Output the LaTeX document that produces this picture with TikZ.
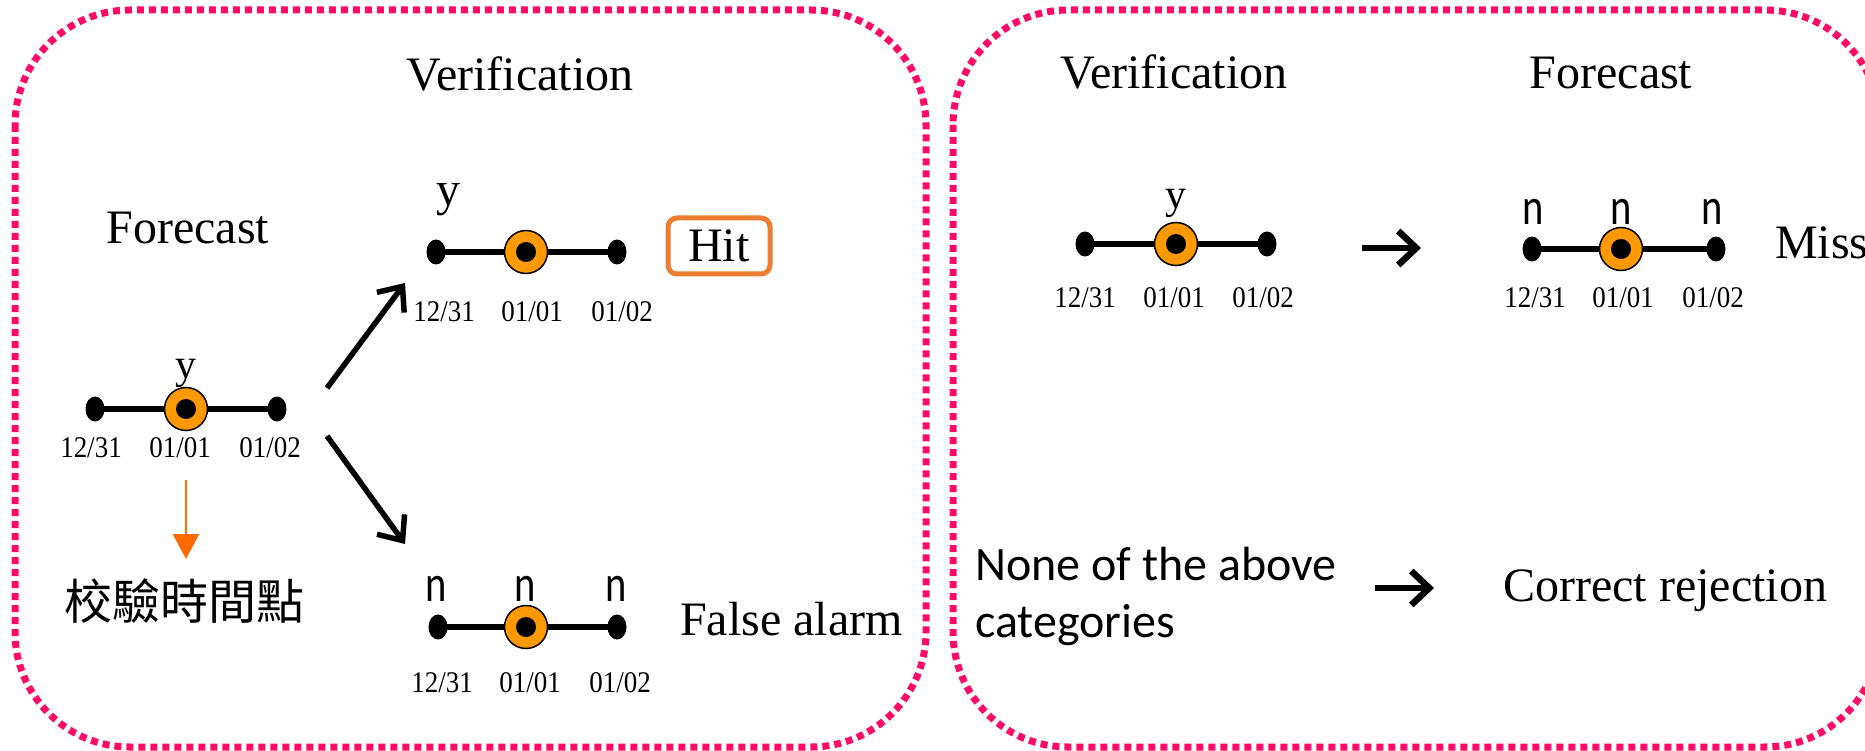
\documentclass[tikz,border=0pt]{standalone}
\usepackage{fontspec}
\setmainfont{Liberation Serif}
\newfontfamily\sansfont{Carlito}
\newfontfamily\narrowsans[FakeStretch=0.78]{Carlito}
\newfontfamily\datefont[FakeStretch=0.9]{Liberation Serif}
\newfontfamily\cjkfont{Noto Sans CJK TC}
\usetikzlibrary{arrows.meta,shapes.geometric,backgrounds}

\definecolor{framepink}{HTML}{FF0A66}
\definecolor{markorange}{HTML}{FF9900}
\definecolor{hitorange}{HTML}{ED7D31}
\definecolor{guideorange}{HTML}{FF6A00}

\tikzset{
  panel/.style={draw=framepink, line width=7pt, dash pattern=on 7pt off 5pt, rounded corners=115pt},
  axisline/.style={line width=6pt, line cap=round},
  enddot/.style={ellipse, fill=black, minimum width=19pt, minimum height=25pt, inner sep=0pt},
  eventmark/.style={circle, fill=markorange, draw=black, line width=1.5pt, minimum size=43pt, inner sep=0pt},
  heading/.style={font=\fontsize{48}{57}\selectfont, anchor=base, inner sep=0pt},
  datelbl/.style={font=\datefont\fontsize{30}{36}\selectfont, anchor=base, inner sep=0pt},
  flagy/.style={font=\fontsize{42}{50}\selectfont, anchor=base, inner sep=0pt},
  flagn/.style={font=\narrowsans\fontsize{52}{60}\selectfont, anchor=base, inner sep=0pt},
  result/.style={font=\fontsize{48}{57}\selectfont, anchor=base west, inner sep=0pt},
  bigarrow/.style={line width=5.5pt, -{Straight Barb[length=20pt,width=34pt,line width=5.5pt]}},
  shortarrow/.style={line width=6.5pt, -{Straight Barb[length=18pt,width=34pt,line width=6.5pt]}},
  hitbox/.style={draw=hitorange, line width=5pt, rounded corners=9pt, minimum width=102pt, minimum height=56pt,
    font=\fontsize{48}{57}\selectfont, inner sep=0pt}
}

% three-day axis: name, x of left dot, x of event, x of right dot, y
\newcommand\dayaxis[5]{%
  \node[enddot] (#1-l) at (#2,#5) {};
  \node[enddot] (#1-r) at (#4,#5) {};
  \node[eventmark] (#1-c) at (#3,#5) {};
  \fill (#1-c.center) circle (10pt);
  \begin{scope}[on background layer]
    \draw[axisline] (#1-l.center) -- (#1-r.center);
  \end{scope}%
}
% date row under an axis: name, baseline y, three x positions
\newcommand\daterow[5]{%
  \node[datelbl] (#1-d1) at (#3,#2) {12/31};
  \node[datelbl] (#1-d2) at (#4,#2) {01/01};
  \node[datelbl] (#1-d3) at (#5,#2) {01/02};
}

\begin{document}
\begin{tikzpicture}[x=1pt, y=-1pt]
\useasboundingbox (0,0) rectangle (1865,751);
\clip (0,0) rectangle (1865,751);

% ---------- left panel ----------
\draw[panel] (15,10) rectangle (926,747);
\node[heading] (lver) at (520,91) {Verification};
\node[heading] (lfc) at (188,244) {Forecast};

% forecast axis
\dayaxis{fc}{95}{186}{277}{409}
\node[flagy] (fc-y) at (186,378) {y};
\daterow{fc}{457}{91}{180}{270}

% verification time pointer
\coordinate (guide-s) at (186,480);
\coordinate (guide-e) at (186,559);
\draw[guideorange, line width=2.5pt, -{Triangle[length=25pt,width=26pt]}] (guide-s) -- (guide-e);
\node[font=\cjkfont\fontsize{48}{56}\selectfont, inner sep=0pt] (vtime) at (184,601) {校驗時間點};

% branches
\coordinate (br-up-s) at (327,388);
\coordinate (br-up-e) at (405,283);
\coordinate (br-dn-s) at (327,436);
\coordinate (br-dn-e) at (405,544);
\draw[bigarrow] (br-up-s) -- (br-up-e);
\draw[bigarrow] (br-dn-s) -- (br-dn-e);

% hit case
\dayaxis{hit}{436}{526}{617}{252}
\node[font=\fontsize{48}{57}\selectfont, anchor=base, inner sep=0pt] (hit-y) at (448,206) {y};
\daterow{hit}{321}{444}{532}{622}
\node[hitbox] (hit) at (719,246) {Hit};

% false alarm case
\dayaxis{fa}{438}{526}{617}{627}
\node[flagn] (fa-n1) at (436,601) {n};
\node[flagn] (fa-n2) at (525,601) {n};
\node[flagn] (fa-n3) at (616,601) {n};
\daterow{fa}{692}{442}{530}{620}
\node[result] (fa) at (680,635) {False alarm};

% ---------- right panel ----------
\draw[panel] (953,10) rectangle (1880,747);
\node[heading] (rver) at (1174,89) {Verification};
\node[heading] (rfc) at (1611,89) {Forecast};

% observed event
\dayaxis{rv}{1085}{1176}{1267}{244}
\node[flagy] (rv-y) at (1176,209) {y};
\daterow{rv}{307}{1085}{1174}{1263}

\coordinate (miss-s) at (1362,248);
\coordinate (miss-e) at (1421,248);
\draw[shortarrow] (miss-s) -- (miss-e);

% forecast without event
\dayaxis{rf}{1532}{1621}{1716}{249}
\node[flagn] (rf-n1) at (1533,225) {n};
\node[flagn] (rf-n2) at (1621,225) {n};
\node[flagn] (rf-n3) at (1712,225) {n};
\daterow{rf}{307}{1535}{1623}{1713}
\node[result] (miss) at (1775,259) {Miss};

% remaining case
\node[font=\sansfont\fontsize{48}{57}\selectfont, anchor=base west, inner sep=0pt] (none1) at (975,580) {None of the above};
\node[font=\sansfont\fontsize{48}{57}\selectfont, anchor=base west, inner sep=0pt] (none2) at (975,637) {categories};
\coordinate (cr-s) at (1375,588);
\coordinate (cr-e) at (1434,588);
\draw[shortarrow] (cr-s) -- (cr-e);
\node[font=\fontsize{48}{57}\selectfont, anchor=base, inner sep=0pt] (crej) at (1665,601) {Correct rejection};
\end{tikzpicture}
\end{document}
